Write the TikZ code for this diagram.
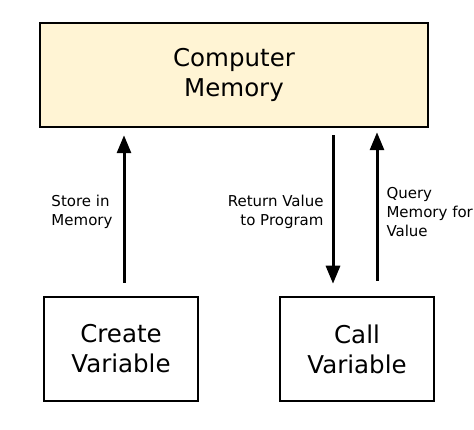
\documentclass[tikz,border=0pt]{standalone}
\usepackage{fontspec}
\setmainfont{DejaVu Sans}
\usepackage{tikz}
\usetikzlibrary{arrows.meta}
\usetikzlibrary{positioning}
\definecolor{memyellow}{RGB}{255,244,212}
\newcommand\boxtext{\fontsize{24.5}{30}\selectfont}
\newcommand\lbltext{\fontsize{15}{19}\selectfont}

\begin{document}
\begin{tikzpicture}[
x=1pt, y=1pt,
node distance= 79.5pt,
box/.style={
  rectangle,
  draw,
  line width=2.5pt,
  minimum height=104pt,
  align=center,
  font=\boxtext},
flow/.style={
  line width=3pt,
  -{Triangle[width=14pt,length=18pt]}},
lbl/.style={
  font=\lbltext,
  inner sep=0pt}
]
\useasboundingbox (0,0) rectangle (474,-430);
\node[box, fill=memyellow, minimum width=388pt] (memory) at (234,-75) {Computer\\Memory};
\node[box, minimum width=154pt] (create) at (121,-349) {Create\\Variable};
\node[box, minimum width=154pt, right=of create] (call) {Call\\Variable};
% arrows between the boxes
\draw[flow, shorten <=13pt, shorten >=7pt] ([xshift=3pt]create.north) -- ([xshift=3pt]create.north |- memory.south)
  node[lbl, midway, left=10pt, align=left] {Store in\\Memory};
\draw[flow, shorten <=7pt, shorten >=12pt] ([xshift=-24pt]call.north |- memory.south) -- ([xshift=-24pt]call.north)
  node[lbl, midway, left=8pt, align=right] {Return Value\\to Program};
\draw[flow, shorten <=15pt, shorten >=4pt] ([xshift=20pt]call.north) -- ([xshift=20pt]call.north |- memory.south)
  node[lbl, midway, right=8pt, align=left] {Query\\Memory for\\Value};
\end{tikzpicture}
\end{document}
